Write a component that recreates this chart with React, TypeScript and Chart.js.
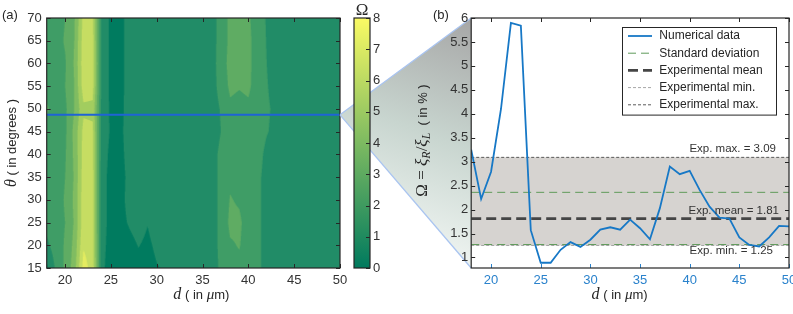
import React, { useEffect, useRef } from "react";
import { Chart, registerables } from "chart.js";

Chart.register(...registerables);

// ===================== DATA =====================
// channel width d (µm) – columns of the map and x of the slice
const dGrid = [18, 19, 20, 21, 22, 23, 24, 25, 26, 27, 28, 29, 30, 31, 32, 33, 34, 35, 36, 37, 38, 39, 40, 41, 42, 43, 44, 45, 46, 47, 48, 49, 50];
// angle theta (degrees) – rows of the map
const thetaGrid = [15, 20, 25, 30, 35, 40, 45, 50, 55, 60, 65, 70];

// Omega map rows (one per theta, values for every d)
const omegaTheta15 = [0.8, 2.2, 3.2, 4.5, 7.4, 6.6, 1.2, 0.6, 0.6, 0.7, 0.85, 0.8, 0.97, 1.05, 1.4, 1.5, 1.6, 1.6, 1.5, 2.2, 2.7, 2.8, 2.5, 2.2, 1.7, 1.6, 1.6, 1.4, 1.3, 1.3, 1.4, 1.5, 1.5];
const omegaTheta20 = [1.8, 2.5, 3.1, 4.3, 6.9, 6.5, 1.25, 0.7, 0.7, 0.85, 1.02, 0.9, 1.1, 1.3, 1.5, 1.6, 1.7, 1.6, 1.5, 2.3, 2.9, 3.05, 2.6, 2.2, 1.7, 1.6, 1.6, 1.4, 1.3, 1.3, 1.4, 1.5, 1.5];
const omegaTheta25 = [2.3, 2.6, 3.0, 4.1, 6.6, 6.4, 1.3, 0.75, 0.85, 1.05, 1.2, 1.02, 1.25, 1.4, 1.5, 1.6, 1.7, 1.6, 1.5, 2.3, 3.2, 3.15, 2.6, 2.2, 1.7, 1.6, 1.6, 1.4, 1.3, 1.3, 1.4, 1.5, 1.5];
const omegaTheta30 = [2.4, 2.5, 3.1, 4.2, 6.6, 6.4, 1.3, 0.75, 0.85, 1.15, 1.25, 1.2, 1.35, 1.5, 1.6, 1.6, 1.7, 1.6, 1.5, 2.3, 3.05, 2.9, 2.6, 2.2, 1.7, 1.6, 1.6, 1.4, 1.3, 1.3, 1.4, 1.5, 1.5];
const omegaTheta35 = [2.5, 2.4, 3.0, 4.1, 6.5, 6.4, 1.3, 0.75, 0.8, 1.15, 1.3, 1.3, 1.4, 1.5, 1.6, 1.6, 1.7, 1.6, 1.5, 2.3, 2.85, 2.7, 2.6, 2.2, 1.7, 1.6, 1.6, 1.4, 1.3, 1.3, 1.4, 1.5, 1.5];
const omegaTheta40 = [2.4, 2.3, 2.9, 4.2, 6.4, 6.3, 1.4, 0.8, 0.85, 1.2, 1.3, 1.3, 1.4, 1.55, 1.6, 1.6, 1.7, 1.6, 1.5, 2.3, 2.8, 2.75, 2.7, 2.3, 1.8, 1.6, 1.6, 1.4, 1.3, 1.3, 1.4, 1.5, 1.6];
const omegaTheta45 = [2.5, 2.2, 2.8, 4.3, 6.3, 6.2, 1.5, 0.9, 0.9, 1.2, 1.35, 1.25, 1.4, 1.6, 1.65, 1.6, 1.8, 1.6, 1.35, 2.0, 2.9, 2.8, 2.8, 2.4, 2.05, 1.8, 1.8, 1.4, 1.3, 1.25, 1.45, 1.65, 1.65];
const omegaTheta50 = [3.2, 2.3, 2.8, 4.0, 5.8, 5.75, 1.6, 0.85, 0.9, 1.15, 1.3, 1.2, 1.35, 1.55, 1.6, 1.55, 1.8, 1.6, 1.4, 2.1, 2.85, 2.75, 2.85, 2.45, 2.1, 1.85, 1.8, 1.45, 1.25, 1.2, 1.4, 1.65, 1.65];
const omegaTheta55 = [2.4, 2.5, 3.0, 4.0, 6.5, 6.4, 1.6, 0.8, 0.85, 1.2, 1.3, 1.25, 1.4, 1.55, 1.6, 1.6, 1.75, 1.6, 1.45, 2.5, 3.15, 3.05, 3.15, 2.6, 2.05, 1.7, 1.7, 1.4, 1.3, 1.25, 1.4, 1.6, 1.6];
const omegaTheta60 = [2.4, 2.6, 2.9, 4.1, 6.6, 6.5, 1.6, 0.8, 0.85, 1.2, 1.3, 1.3, 1.4, 1.5, 1.6, 1.6, 1.7, 1.6, 1.5, 2.6, 3.25, 3.3, 3.2, 2.6, 2.0, 1.6, 1.6, 1.4, 1.3, 1.3, 1.4, 1.6, 1.6];
const omegaTheta65 = [2.3, 2.6, 3.1, 4.0, 6.5, 6.4, 1.6, 0.8, 0.85, 1.2, 1.3, 1.3, 1.4, 1.5, 1.6, 1.6, 1.7, 1.6, 1.5, 2.5, 3.2, 3.3, 3.2, 2.6, 1.95, 1.6, 1.5, 1.4, 1.3, 1.3, 1.4, 1.5, 1.6];
const omegaTheta70 = [2.2, 2.5, 3.0, 3.9, 6.3, 6.2, 1.6, 0.8, 0.85, 1.2, 1.3, 1.3, 1.4, 1.5, 1.5, 1.6, 1.6, 1.5, 1.5, 2.5, 3.2, 3.3, 3.1, 2.6, 1.9, 1.5, 1.5, 1.4, 1.3, 1.3, 1.4, 1.5, 1.5];
const omegaMap = [omegaTheta15, omegaTheta20, omegaTheta25, omegaTheta30, omegaTheta35, omegaTheta40, omegaTheta45, omegaTheta50, omegaTheta55, omegaTheta60, omegaTheta65, omegaTheta70];

// slice shown in panel (b)
const sliceTheta = 48.7;
const numericalOmega = [3.25, 2.22, 2.79, 4.1, 5.9, 5.84, 1.57, 0.89, 0.89, 1.16, 1.32, 1.22, 1.37, 1.58, 1.63, 1.58, 1.79, 1.61, 1.38, 2.03, 2.9, 2.74, 2.81, 2.41, 2.06, 1.83, 1.81, 1.42, 1.26, 1.23, 1.42, 1.66, 1.65];

// experimental reference values
const expMean = 1.81;
const expMin = 1.25;
const expMax = 3.09;
const stdUpper = 2.36;
const stdLower = 1.27;

// axes ranges
const omegaAxisRange = [0.78, 6];
const colorbarRange = [0, 8];

// ===================== STYLE =====================
const SANS = "'Liberation Sans', Arial, Helvetica, sans-serif";
const SERIF = "'Liberation Serif', 'Times New Roman', serif";
const FRAME = "#262626";
const TICK_TEXT = "#333333";
const LINE_BLUE = "#1778c6";
const TICK_BLUE = "#2a82cc";
const levelColors: number[][] = [
  [0, 123, 95],
  [33, 140, 103],
  [63, 157, 102],
  [95, 172, 99],
  [128, 188, 97],
  [162, 205, 95],
  [198, 221, 98],
  [228, 236, 96],
];

type Seg = { t: string; font: string; dy?: number };

function drawRich(ctx: CanvasRenderingContext2D, segs: Seg[], x: number, y: number, rotate: boolean, color = "#262626") {
  ctx.save();
  ctx.translate(x, y);
  if (rotate) ctx.rotate(-Math.PI / 2);
  const widths = segs.map((s) => {
    ctx.font = s.font;
    return ctx.measureText(s.t).width;
  });
  const total = widths.reduce((a, b) => a + b, 0);
  let cx = -total / 2;
  ctx.textAlign = "left";
  ctx.textBaseline = "alphabetic";
  ctx.fillStyle = color;
  segs.forEach((s, i) => {
    ctx.font = s.font;
    ctx.fillText(s.t, cx, s.dy || 0);
    cx += widths[i];
  });
  ctx.restore();
}

function locate(arr: number[], v: number) {
  let i = 0;
  while (i < arr.length - 2 && v > arr[i + 1]) i++;
  const f = Math.min(1, Math.max(0, (v - arr[i]) / (arr[i + 1] - arr[i])));
  return { i, f };
}

function sampleOmega(d: number, th: number) {
  const a = locate(dGrid, d);
  const b = locate(thetaGrid, th);
  const r0 = omegaMap[b.i];
  const r1 = omegaMap[b.i + 1];
  const v0 = r0[a.i] * (1 - a.f) + r0[a.i + 1] * a.f;
  const v1 = r1[a.i] * (1 - a.f) + r1[a.i + 1] * a.f;
  return v0 * (1 - b.f) + v1 * b.f;
}

function line(ctx: CanvasRenderingContext2D, x1: number, y1: number, x2: number, y2: number) {
  ctx.beginPath();
  ctx.moveTo(x1, y1);
  ctx.lineTo(x2, y2);
  ctx.stroke();
}

function frameTicks(chart: any, o: { hasX: boolean; xTop: boolean; xBottomColor: string; yLeft: boolean; yRight: boolean }) {
  const { ctx, chartArea: a } = chart;
  const L = 4;
  ctx.save();
  ctx.setLineDash([]);
  ctx.lineWidth = 1;
  if (o.hasX) {
    const xs = chart.scales.x;
    for (const t of xs.ticks) {
      const x = Math.round(xs.getPixelForValue(t.value)) + 0.5;
      ctx.strokeStyle = o.xBottomColor;
      line(ctx, x, a.bottom, x, a.bottom - L);
      if (o.xTop) {
        ctx.strokeStyle = FRAME;
        line(ctx, x, a.top, x, a.top + L);
      }
    }
  }
  const ys = chart.scales.y;
  ctx.strokeStyle = FRAME;
  for (const t of ys.ticks) {
    const y = Math.round(ys.getPixelForValue(t.value)) + 0.5;
    if (o.yLeft) line(ctx, a.left, y, a.left + L, y);
    if (o.yRight) line(ctx, a.right, y, a.right - L, y);
  }
  ctx.lineWidth = 1.2;
  ctx.strokeRect(a.left, a.top, a.right - a.left, a.bottom - a.top);
  ctx.restore();
}

// ===================== PLUGINS =====================
const heatmapPlugin = {
  id: "heatmap",
  beforeDatasetsDraw(chart: any) {
    const { ctx, chartArea: a, scales } = chart;
    const w = Math.ceil(a.right - a.left);
    const h = Math.ceil(a.bottom - a.top);
    const S = 3;
    const off = document.createElement("canvas");
    off.width = w;
    off.height = h;
    const octx = off.getContext("2d")!;
    const img = octx.createImageData(w, h);
    const ds: number[] = [];
    for (let k = 0; k < w * S; k++) ds.push(scales.x.getValueForPixel(a.left + (k + 0.5) / S));
    const ts: number[] = [];
    for (let k = 0; k < h * S; k++) ts.push(scales.y.getValueForPixel(a.top + (k + 0.5) / S));
    for (let py = 0; py < h; py++) {
      for (let px = 0; px < w; px++) {
        let r = 0, g = 0, b = 0;
        for (let sy = 0; sy < S; sy++) {
          for (let sx = 0; sx < S; sx++) {
            const v = sampleOmega(ds[px * S + sx], ts[py * S + sy]);
            const lvl = Math.max(0, Math.min(levelColors.length - 1, Math.floor(v)));
            const c = levelColors[lvl];
            r += c[0]; g += c[1]; b += c[2];
          }
        }
        const n = S * S;
        const idx = (py * w + px) * 4;
        img.data[idx] = r / n;
        img.data[idx + 1] = g / n;
        img.data[idx + 2] = b / n;
        img.data[idx + 3] = 255;
      }
    }
    octx.putImageData(img, 0, 0);
    ctx.save();
    ctx.beginPath();
    ctx.rect(a.left, a.top, a.right - a.left, a.bottom - a.top);
    ctx.clip();
    ctx.drawImage(off, a.left, a.top);
    ctx.restore();
  },
};

const leftDecor = {
  id: "leftDecor",
  afterDraw(chart: any) {
    const { ctx, chartArea: a } = chart;
    frameTicks(chart, { hasX: true, xTop: true, xBottomColor: FRAME, yLeft: true, yRight: true });
    const cx = (a.left + a.right) / 2 + 8;
    drawRich(ctx, [
      { t: "d", font: `italic 16px ${SERIF}` },
      { t: " ( in ", font: `13px ${SANS}` },
      { t: "μ", font: `italic 15px ${SERIF}` },
      { t: "m)", font: `13px ${SANS}` },
    ], cx, 299, false);
    drawRich(ctx, [
      { t: "θ", font: `italic 16px ${SERIF}` },
      { t: " ( in degrees )", font: `13px ${SANS}` },
    ], 16, (a.top + a.bottom) / 2, true);
    ctx.save();
    ctx.font = `13px ${SANS}`;
    ctx.fillStyle = "#262626";
    ctx.textBaseline = "middle";
    ctx.textAlign = "left";
    ctx.fillText("(a)", 2, 15);
    ctx.restore();
  },
};

const cbDecor = {
  id: "cbDecor",
  afterDraw(chart: any) {
    const { ctx, chartArea: a } = chart;
    frameTicks(chart, { hasX: false, xTop: false, xBottomColor: FRAME, yLeft: false, yRight: true });
    ctx.save();
    ctx.font = `17px ${SERIF}`;
    ctx.fillStyle = "#262626";
    ctx.textAlign = "center";
    ctx.textBaseline = "alphabetic";
    ctx.fillText("Ω", (a.left + a.right) / 2, 15);
    ctx.restore();
  },
};

// ===================== APP =====================
const LEFT_X = 0;
const RIGHT_X = 330;
const CB_X = 345;

export default function App() {
  const leftRef = useRef<HTMLCanvasElement | null>(null);
  const rightRef = useRef<HTMLCanvasElement | null>(null);
  const cbRef = useRef<HTMLCanvasElement | null>(null);

  useEffect(() => {
    const tickFont = { family: SANS, size: 13 };
    const fmt = (v: any) => `${+Number(v).toFixed(2)}`;
    const dMin = dGrid[0];
    const dMax = dGrid[dGrid.length - 1];
    const hline = (v: number) => [{ x: dMin, y: v }, { x: dMax, y: v }];

    const leftChart: any = new Chart(leftRef.current!, {
      type: "line",
      data: {
        datasets: [
          {
            data: hline(sliceTheta),
            borderColor: "#1f63d6",
            borderWidth: 2,
            pointRadius: 0,
          },
        ],
      },
      options: {
        animation: false,
        responsive: false,
        events: [],
        layout: { padding: { left: 0, right: 12, top: 18, bottom: 0 } },
        plugins: { legend: { display: false }, tooltip: { enabled: false } },
        scales: {
          x: {
            type: "linear",
            min: dMin,
            max: dMax,
            grid: { display: false, drawTicks: false },
            border: { display: false },
            ticks: { stepSize: 5, includeBounds: false, autoSkip: false, maxRotation: 0, padding: 5, color: TICK_TEXT, font: tickFont, callback: fmt },
            afterFit: (s: any) => { s.height = 46; s.paddingLeft = 0; s.paddingRight = 0; },
          },
          y: {
            type: "linear",
            min: thetaGrid[0],
            max: thetaGrid[thetaGrid.length - 1],
            grid: { display: false, drawTicks: false },
            border: { display: false },
            ticks: { stepSize: 5, includeBounds: false, autoSkip: false, padding: 5, color: TICK_TEXT, font: tickFont, callback: fmt },
            afterFit: (s: any) => { s.width = 46.7; s.paddingTop = 0; s.paddingBottom = 0; },
          },
        },
      } as any,
      plugins: [heatmapPlugin, leftDecor],
    } as any);

    const cbChart = new Chart(cbRef.current!, {
      type: "bar",
      data: {
        labels: [""],
        datasets: [
          {
            data: [[colorbarRange[0], colorbarRange[1]]],
            barPercentage: 1,
            categoryPercentage: 1,
            borderWidth: 0,
            backgroundColor: (c: any) => {
              const ca = c.chart.chartArea;
              if (!ca) return "rgb(33,140,103)";
              const g = c.chart.ctx.createLinearGradient(0, ca.bottom, 0, ca.top);
              g.addColorStop(0, "rgb(0,122,94)");
              g.addColorStop(1, "rgb(250,250,100)");
              return g;
            },
          },
        ],
      },
      options: {
        animation: false,
        responsive: false,
        events: [],
        layout: { padding: { left: 9, right: 0, top: 18, bottom: 46 } },
        plugins: { legend: { display: false }, tooltip: { enabled: false } },
        scales: {
          x: { display: false },
          y: {
            position: "right",
            min: colorbarRange[0],
            max: colorbarRange[1],
            grid: { display: false, drawTicks: false },
            border: { display: false },
            ticks: { stepSize: 1, autoSkip: false, padding: 3, color: TICK_TEXT, font: tickFont, callback: fmt },
            afterFit: (s: any) => { s.width = 25; s.paddingTop = 0; s.paddingBottom = 0; },
          },
        },
      } as any,
      plugins: [cbDecor],
    } as any);

    const zoomPlugin = {
      id: "zoomWedge",
      beforeDraw(chart: any) {
        const { ctx, chartArea: a } = chart;
        const ax = leftChart.scales.x.getPixelForValue(dMax) + LEFT_X - RIGHT_X;
        const ay = leftChart.scales.y.getPixelForValue(sliceTheta);
        ctx.save();
        const g = ctx.createLinearGradient(a.left, a.top, a.left - 82, a.bottom - 18);
        g.addColorStop(0, "rgb(166,166,166)");
        g.addColorStop(0.5, "rgb(200,213,207)");
        g.addColorStop(1, "rgb(242,247,244)");
        ctx.beginPath();
        ctx.moveTo(ax, ay);
        ctx.lineTo(a.left, a.top);
        ctx.lineTo(a.left, a.bottom);
        ctx.closePath();
        ctx.fillStyle = g;
        ctx.fill();
        ctx.strokeStyle = "#a9c4f0";
        ctx.lineWidth = 1.3;
        line(ctx, ax, ay, a.left, a.top);
        line(ctx, ax, ay, a.left, a.bottom);
        ctx.restore();
      },
    };

    const rightDecor = {
      id: "rightDecor",
      afterDraw(chart: any) {
        const { ctx, chartArea: a } = chart;
        const ys = chart.scales.y;
        // annotations
        ctx.save();
        ctx.font = `11.5px ${SANS}`;
        ctx.fillStyle = "#333333";
        ctx.textAlign = "right";
        ctx.textBaseline = "middle";
        ctx.fillText(`Exp. max. = ${expMax.toFixed(2)}`, a.right - 13, ys.getPixelForValue(expMax) - 9);
        ctx.fillText(`Exp. mean = ${expMean.toFixed(2)}`, a.right - 10, ys.getPixelForValue(expMean) - 8);
        ctx.fillText(`Exp. min. = ${expMin.toFixed(2)}`, a.right - 16, ys.getPixelForValue(expMin) + 5.5);
        ctx.restore();

        frameTicks(chart, { hasX: true, xTop: true, xBottomColor: TICK_BLUE, yLeft: true, yRight: true });

        // legend
        const items = chart.data.datasets.filter((d: any) => !d.skipLegend);
        const bx = a.right - 167.3;
        const by = a.top + 8.7;
        const bw = 154;
        const bh = 87.6;
        ctx.save();
        ctx.fillStyle = "#ffffff";
        ctx.fillRect(bx, by, bw, bh);
        ctx.strokeStyle = FRAME;
        ctx.lineWidth = 1;
        ctx.strokeRect(Math.round(bx) + 0.5, Math.round(by) + 0.5, bw, bh);
        items.forEach((d: any, i: number) => {
          const y = by + 9.3 + i * 17.2;
          ctx.setLineDash(d.borderDash || []);
          ctx.strokeStyle = d.borderColor;
          ctx.lineWidth = d.borderWidth;
          line(ctx, bx + 6.3, y, bx + 30.3, y);
          ctx.setLineDash([]);
          ctx.font = `12px ${SANS}`;
          ctx.fillStyle = "#262626";
          ctx.textAlign = "left";
          ctx.textBaseline = "middle";
          ctx.fillText(d.label, bx + 37.6, y);
        });
        ctx.restore();

        // titles
        drawRich(ctx, [
          { t: "d", font: `italic 16px ${SERIF}` },
          { t: " ( in ", font: `13px ${SANS}` },
          { t: "μ", font: `italic 15px ${SERIF}` },
          { t: "m)", font: `13px ${SANS}` },
        ], (a.left + a.right) / 2 - 10.5, 299, false);
        drawRich(ctx, [
          { t: "Ω", font: `17px ${SERIF}` },
          { t: " = ", font: `17px ${SERIF}` },
          { t: "ξ", font: `italic 17px ${SERIF}` },
          { t: "R", font: `italic 12px ${SERIF}`, dy: 3 },
          { t: "/", font: `17px ${SERIF}` },
          { t: "ξ", font: `italic 17px ${SERIF}` },
          { t: "L", font: `italic 12px ${SERIF}`, dy: 3 },
          { t: "  ( in % )", font: `13px ${SANS}` },
        ], 427 - RIGHT_X, 140.5, true);
        ctx.save();
        ctx.font = `13px ${SANS}`;
        ctx.fillStyle = "#262626";
        ctx.textBaseline = "middle";
        ctx.textAlign = "left";
        ctx.fillText("(b)", 433 - RIGHT_X, 15);
        ctx.restore();
      },
    };

    const rightChart = new Chart(rightRef.current!, {
      type: "line",
      data: {
        datasets: [
          {
            label: "Numerical data",
            data: dGrid.map((d, i) => ({ x: d, y: numericalOmega[i] })),
            borderColor: LINE_BLUE,
            borderWidth: 1.8,
            pointRadius: 0,
            tension: 0,
          },
          {
            label: "Standard deviation",
            data: hline(stdUpper),
            borderColor: "#5f9a5a",
            borderWidth: 1,
            borderDash: [8, 5],
            pointRadius: 0,
          },
          {
            label: "Standard deviation",
            skipLegend: true,
            data: hline(stdLower),
            borderColor: "#5f9a5a",
            borderWidth: 1,
            borderDash: [8, 5],
            pointRadius: 0,
          },
          {
            label: "Experimental mean",
            data: hline(expMean),
            borderColor: "#454545",
            borderWidth: 2.6,
            borderDash: [10, 5],
            pointRadius: 0,
          },
          {
            label: "Experimental min.",
            data: hline(expMin),
            borderColor: "#a6a6a6",
            borderWidth: 1,
            borderDash: [3, 2],
            pointRadius: 0,
          },
          {
            label: "Experimental max.",
            data: hline(expMax),
            borderColor: "#5a5a5a",
            borderWidth: 1,
            borderDash: [3, 2],
            pointRadius: 0,
            fill: 4,
            backgroundColor: "#d6d3d0",
          },
        ],
      },
      options: {
        animation: false,
        responsive: false,
        events: [],
        layout: { padding: { left: 0, right: 4, top: 18, bottom: 0 } },
        plugins: {
          legend: { display: false },
          tooltip: { enabled: false },
          filler: { propagate: false, drawTime: "beforeDatasetsDraw" },
        },
        scales: {
          x: {
            type: "linear",
            min: dMin,
            max: dMax,
            grid: { display: false, drawTicks: false },
            border: { display: false },
            ticks: { stepSize: 5, includeBounds: false, autoSkip: false, maxRotation: 0, padding: 5, color: TICK_BLUE, font: tickFont, callback: fmt },
            afterFit: (s: any) => { s.height = 46; s.paddingLeft = 0; s.paddingRight = 0; },
          },
          y: {
            type: "linear",
            min: omegaAxisRange[0],
            max: omegaAxisRange[1],
            grid: { display: false, drawTicks: false },
            border: { display: false },
            ticks: { stepSize: 0.5, includeBounds: false, autoSkip: false, padding: 3, color: TICK_TEXT, font: tickFont, callback: fmt },
            afterFit: (s: any) => { s.width = 141.2; s.paddingTop = 0; s.paddingBottom = 0; },
          },
        },
      } as any,
      plugins: [zoomPlugin, rightDecor],
    } as any);

    return () => {
      leftChart.destroy();
      cbChart.destroy();
      rightChart.destroy();
    };
  }, []);

  return (
    <div style={{ position: "fixed", left: 0, top: 0, width: 793, height: 314, background: "#ffffff", overflow: "hidden" }}>
      <canvas ref={leftRef} width={352} height={314} style={{ position: "absolute", left: LEFT_X, top: 0, width: 352, height: 314, zIndex: 1 }} />
      <canvas ref={rightRef} width={463} height={314} style={{ position: "absolute", left: RIGHT_X, top: 0, width: 463, height: 314, zIndex: 2 }} />
      <canvas ref={cbRef} width={50} height={314} style={{ position: "absolute", left: CB_X, top: 0, width: 50, height: 314, zIndex: 3 }} />
    </div>
  );
}
